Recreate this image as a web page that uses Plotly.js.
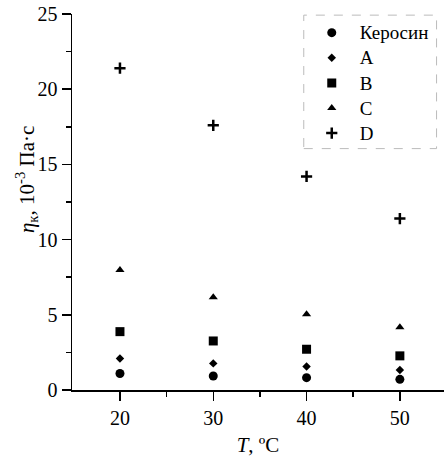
<!DOCTYPE html>
<html>
<head>
<meta charset="utf-8">
<script src="https://cdn.plot.ly/plotly-3.0.1.min.js"></script>
<style>html,body{margin:0;padding:0;background:#fff;}#chart{width:444px;height:457px;}</style>
</head>
<body>
<div id="chart"></div>
<script>
const temperatures = [20, 30, 40, 50];
const seriesNames = ["Керосин", "A", "B", "C", "D"];
const kerosene = [1.10, 0.93, 0.82, 0.71];
const seriesA = [2.10, 1.77, 1.56, 1.33];
const seriesB = [3.88, 3.26, 2.71, 2.27];
const seriesC = [7.98, 6.16, 5.04, 4.18];
const seriesD = [21.4, 17.6, 14.2, 11.4];
const xTickVals = [20, 30, 40, 50];
const xMinorVals = [25, 35, 45];

const seriesValues = [kerosene, seriesA, seriesB, seriesC, seriesD];
const symbols = ["circle", "diamond", "square", "triangle-up", "cross-thin"];
const sizes = [9, 6.5, 9, 8, 8];

const traces = seriesValues.map((vals, i) => ({
  x: temperatures,
  y: vals,
  name: '<span style="font-size:19px">' + seriesNames[i] + '</span>',
  type: "scatter",
  mode: "markers",
  marker: {
    symbol: symbols[i],
    size: sizes[i],
    color: "#000",
    line: {color: "#000", width: symbols[i] === "cross-thin" ? 2.5 : 0}
  }
}));

const font = "'Liberation Serif', 'Times New Roman', serif";
const layout = {
  width: 444, height: 457,
  margin: {l: 72, r: 0, t: 14, b: 67},
  paper_bgcolor: "#fff", plot_bgcolor: "#fff",
  font: {family: font, color: "#000", size: 20},
  showlegend: true,
  legend: {
    x: 0.623, xanchor: "left", y: 0.997, yanchor: "top",
    font: {family: font, size: 17, color: "#000"},
    bgcolor: "rgba(0,0,0,0)", borderwidth: 0,
    itemwidth: 46
  },
  xaxis: {
    range: [14.86, 54.73],
    tickmode: "array", tickvals: xTickVals,
    ticks: "outside", ticklen: 9, tickwidth: 1.5, tickcolor: "#000",
    minor: {tickmode: "array", tickvals: xMinorVals, ticks: "outside", ticklen: 5, tickwidth: 1.5, tickcolor: "#000"},
    showline: true, linecolor: "#000", linewidth: 1.5,
    showgrid: false, zeroline: false,
    tickfont: {family: font, size: 20},
    title: {text: "<i>T</i>, ºC", font: {family: font, size: 21}, standoff: 11}
  },
  yaxis: {
    range: [0, 25], dtick: 5, tick0: 0,
    ticks: "outside", ticklen: 9, tickwidth: 1.5, tickcolor: "#000",
    minor: {dtick: 2.5, ticks: "outside", ticklen: 5, tickwidth: 1.5, tickcolor: "#000"},
    showline: true, linecolor: "#000", linewidth: 1.5,
    showgrid: false, zeroline: false,
    tickfont: {family: font, size: 20}
  },
  annotations: [{
    text: "<i>η</i><sub>к</sub>, 10<sup>-3</sup> Па·с",
    xref: "paper", yref: "paper",
    x: -0.122, y: 0.56, xanchor: "center", yanchor: "middle",
    textangle: -90, showarrow: false,
    font: {family: font, size: 21, color: "#000"}
  }],
  shapes: [{
    type: "rect", xref: "paper", yref: "paper",
    x0: 0.623, x1: 0.98, y0: 0.642, y1: 0.997,
    line: {color: "#bbb", width: 1, dash: "dash"}
  }]
};

Plotly.newPlot("chart", traces, layout, {displayModeBar: false, staticPlot: true});
</script>
</body>
</html>
